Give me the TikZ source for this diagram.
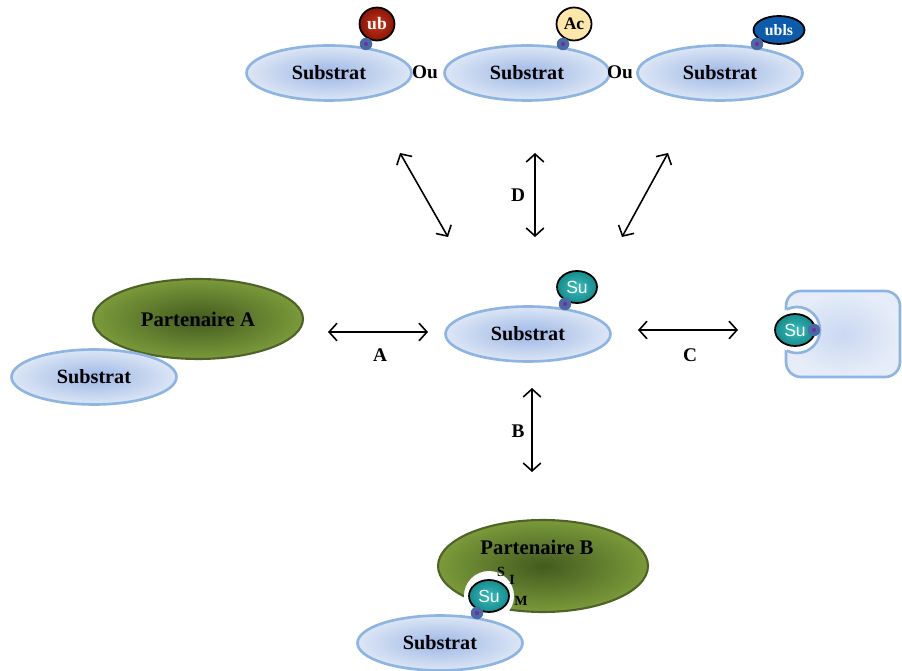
\documentclass[tikz,border=0pt]{standalone}
\usepackage{fontspec}
\setmainfont{Liberation Serif}
\setsansfont{Liberation Sans}
\usetikzlibrary{positioning,arrows.meta,shapes.geometric}

\definecolor{bordsub}{HTML}{8DB4E2}
\definecolor{subin}{HTML}{9DB7E6}
\definecolor{subout}{HTML}{DCE6F5}
\definecolor{vertin}{HTML}{435A1F}
\definecolor{vertout}{HTML}{7A9A3A}
\definecolor{vertbord}{HTML}{4F6228}
\definecolor{suin}{HTML}{3DBDBD}
\definecolor{suout}{HTML}{148C8C}
\definecolor{ubin}{HTML}{C8341C}
\definecolor{ubout}{HTML}{8A1606}
\definecolor{accol}{HTML}{FCE6A8}
\definecolor{ublscol}{HTML}{0D5BAB}
\definecolor{sitecol}{HTML}{4A6AA5}
\definecolor{sitemid}{HTML}{7030A0}

\begin{document}
\begin{tikzpicture}[
  x=0.02cm, y=-0.02cm,
  substrat/.style={ellipse, draw=bordsub, line width=1.5pt, inner sep=0pt,
    minimum width=3.3cm, minimum height=1.1cm,
    shading=radial, inner color=subin, outer color=subout,
    font=\fontsize{11.5}{13}\selectfont\bfseries},
  partenaire/.style={ellipse, draw=vertbord, line width=1.2pt, inner sep=0pt,
    minimum width=4.2cm, minimum height=1.6cm,
    shading=radial, inner color=vertin, outer color=vertout,
    font=\fontsize{11.8}{13}\selectfont\bfseries},
  modif/.style={ellipse, draw=black, line width=1pt, inner sep=0pt,
    minimum width=0.7cm, minimum height=0.66cm,
    font=\fontsize{10}{12}\selectfont\bfseries},
  su/.style={modif, minimum width=0.8cm, minimum height=0.64cm, shading=radial,
    inner color=suin, outer color=suout, text=white,
    font=\sffamily\fontsize{10}{12}\selectfont},
  site/.style={circle, fill=sitecol, inner sep=0pt, minimum size=0.25cm,
    path picture={\fill[sitemid] (path picture bounding box.center) circle (1.2pt);}},
  lab/.style={font=\fontsize{11}{13}\selectfont\bfseries},
  petit/.style={font=\fontsize{8}{9}\selectfont\bfseries, inner sep=0pt},
  fleche/.style={line width=0.9pt, {Straight Barb[length=4.5pt,width=10pt]}-{Straight Barb[length=4.5pt,width=10pt]}}
]
\useasboundingbox (0,0) rectangle (902,671);

% ligne du haut
\node[substrat] (s1) at (329,73) {Substrat};
\node[substrat] (s2) at (527,73) {Substrat};
\node[substrat] (s3) at (720,73) {Substrat};
\node[lab] (ou1) at (425,72) {Ou};
\node[lab] (ou2) at (620,72) {Ou};
\node[modif, shading=radial, inner color=ubin, outer color=ubout, text=white] (ub) at (377,24) {ub};
\node[modif, fill=accol] (ac) at (574,24) {Ac};
\node[modif, fill=ublscol, text=white, minimum width=1.02cm, minimum height=0.56cm,
  font=\fontsize{9}{11}\selectfont\bfseries] (ubls) at (779,30) {ubls};
\node[site] (d1) at (366,44) {};
\node[site] (d2) at (563,44) {};
\node[site] (d3) at (757,44) {};

% substrat central
\node[substrat] (sc) at (528,334) {Substrat};
\node[su] (suc) at (577,287) {Su};
\node[site] (dc) at (565,304) {};

% partenaire A
\node[partenaire] (pa) at (198,319) {Partenaire A};
\node[substrat] (sa) at (94,377) {Substrat};

% cellule a droite
\shade[draw=bordsub, line width=1.5pt, rounded corners=0.3cm,
  inner color=subin!55, outer color=subout!70] (786,291) rectangle (900,377);
\fill[white] (797,330) circle (23);
\begin{scope}
  \clip (787,285) rectangle (905,385);
  \draw[bordsub, line width=1.5pt] (797,330) circle (23);
\end{scope}
\node[su] (sud) at (795,330) {Su};
\node[site] (dd) at (814,330) {};

% partenaire B
\node[partenaire, minimum height=1.84cm] (pb) at (543,566) {};
\node[font=\fontsize{11.8}{13}\selectfont\bfseries] (pbt) at (537,547) {Partenaire B};
\fill[white] (489,596) circle (25);
\node[substrat] (sb) at (440,643) {Substrat};
\node[su] (sub) at (489,596) {Su};
\node[site] (db) at (477,613) {};
\node[petit] (ls) at (501,572) {S};
\node[petit] (li) at (512,580) {I};
\node[petit] (lm) at (521,601) {M};

% fleches
\coordinate (g1) at (400,153);
\coordinate (g2) at (448,237);
\coordinate (m1) at (535,153);
\coordinate (m2) at (535,237);
\coordinate (r1) at (668,153);
\coordinate (r2) at (622,237);
\coordinate (a1) at (328,332);
\coordinate (a2) at (428,332);
\coordinate (c1) at (638,330);
\coordinate (c2) at (738,330);
\coordinate (b1) at (532,388);
\coordinate (b2) at (532,472);
\draw[fleche] (g1) -- (g2);
\draw[fleche] (m1) -- (m2);
\draw[fleche] (r1) -- (r2);
\draw[fleche] (a1) -- (a2);
\draw[fleche] (c1) -- (c2);
\draw[fleche] (b1) -- (b2);
\node[lab] (ld) at (518,195) {D};
\node[lab] (la) at (380,355) {A};
\node[lab] (lc) at (690,355) {C};
\node[lab] (lb) at (518,431) {B};
\end{tikzpicture}
\end{document}
